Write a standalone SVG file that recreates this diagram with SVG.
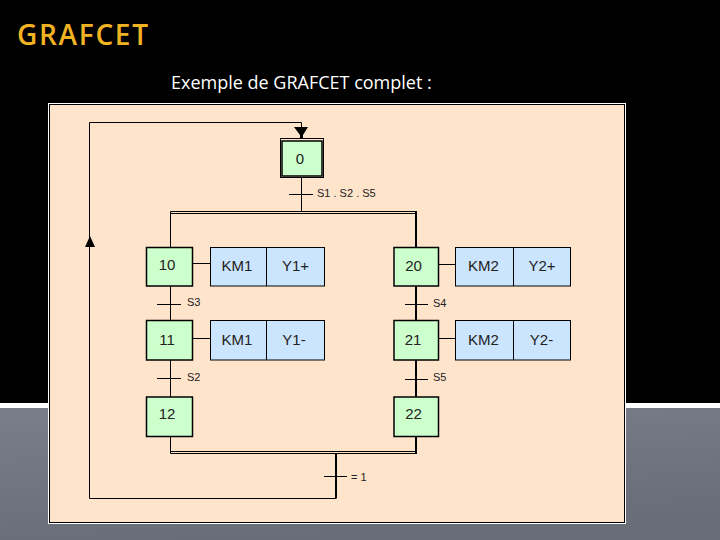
<svg xmlns="http://www.w3.org/2000/svg" width="720" height="540" viewBox="0 0 720 540">
<style>
.step{fill:#ccffcc;stroke:#000;stroke-width:1.5}
.act{fill:#cce5ff;stroke:#000;stroke-width:1}
.c{fill:none;stroke:#000;stroke-width:1}
.t{fill:none;stroke:#000;stroke-width:2}
text{font-family:"Liberation Sans",Arial,sans-serif;fill:#222}
.n{font-size:15px;text-anchor:middle}
.s{font-size:11px}
</style>
<defs>
<linearGradient id="g" x1="0" y1="0" x2="0.3" y2="1"><stop offset="0" stop-color="#7a7e8a"/><stop offset="1" stop-color="#696d78"/></linearGradient>
</defs>
<rect width="720" height="540" fill="#000"/>
<rect y="403" width="720" height="5" fill="#fff"/>
<rect y="408" width="720" height="132" fill="url(#g)"/>
<text x="17" y="45" style="font-family:'Open Sans',sans-serif;font-size:28px;font-weight:600;fill:#f2b322;letter-spacing:1.7px">GRAFCET</text>
<text x="171" y="89" style="font-family:'Open Sans',sans-serif;font-size:18px;fill:#fff">Exemple de GRAFCET complet :</text>
<rect x="48" y="103" width="578" height="421" fill="#fff"/>
<rect x="49.500" y="104.500" width="575" height="418" fill="#ffe4cc" stroke="#000"/>
<g id="connectors">
<path class="c" d="M301.500 138V122.500H89.500V498.500H336"/>
<path class="c" d="M301.500 178V212M289 194.500H313"/>
<path class="c" d="M170.500 247V211.500H417M170.500 213.500H415"/>
<path class="t" d="M416 212V247M416 286V321M416 360V397M416 437V454"/>
<path class="c" d="M170.500 286V321M170.500 360V397M170.500 436V453.500H417M170.500 451.500H415"/>
<path class="c" d="M157 304.500H181M157 378.500H181M405 304.500H428M405 379.500H428M324 476.500H347"/>
<path class="t" d="M336 454V498.500"/>
<path class="c" d="M192 263.500H211M192 338.500H211M438 264.500H456M438 338.500H456"/>
<path fill="#000" d="M294 127H308L303 135V138H300V135ZM85 247L90 236 95 247Z"/>
</g>
<g id="step0"><rect x="280.500" y="138.500" width="43" height="39" fill="#ffe4cc" stroke="#000" stroke-width="1"/><rect x="282" y="141" width="40" height="35" fill="#ccffcc" stroke="#000" stroke-width="1.500"/><text class="n" x="300" y="164">0</text></g>
<g id="step10"><rect class="step" x="146.500" y="247.500" width="46" height="38.500"/><text class="n" x="167" y="270">10</text></g>
<g id="step11"><rect class="step" x="146.500" y="320.500" width="46" height="39.500"/><text class="n" x="167" y="345">11</text></g>
<g id="step12"><rect class="step" x="146.500" y="397" width="46" height="39.500"/><text class="n" x="167" y="419">12</text></g>
<g id="step20"><rect class="step" x="394" y="247.500" width="44.500" height="38.500"/><text class="n" x="413.500" y="270.500">20</text></g>
<g id="step21"><rect class="step" x="394" y="320.500" width="44.500" height="39.500"/><text class="n" x="413" y="345">21</text></g>
<g id="step22"><rect class="step" x="394" y="397" width="44.500" height="39.500"/><text class="n" x="413.500" y="419">22</text></g>
<g id="act1"><rect class="act" x="210.500" y="247.500" width="114" height="38.500"/><path class="c" d="M266.500 247.500V286"/><text class="n" x="237" y="271">KM1</text><text class="n" x="295.500" y="271">Y1+</text></g>
<g id="act2"><rect class="act" x="210.500" y="320.500" width="114" height="39.500"/><path class="c" d="M266.500 320.500V360"/><text class="n" x="237" y="345">KM1</text><text class="n" x="294" y="345">Y1-</text></g>
<g id="act3"><rect class="act" x="455.500" y="247.500" width="115" height="38.500"/><path class="c" d="M513.500 247.500V286"/><text class="n" x="483.500" y="270.500">KM2</text><text class="n" x="542" y="270.500">Y2+</text></g>
<g id="act4"><rect class="act" x="455.500" y="320.500" width="115" height="39.500"/><path class="c" d="M513.500 320.500V360"/><text class="n" x="483.500" y="345">KM2</text><text class="n" x="541.500" y="345">Y2-</text></g>
<g id="labels">
<text class="s" x="317" y="197">S1 . S2 . S5</text>
<text class="s" x="187" y="306">S3</text>
<text class="s" x="187" y="381">S2</text>
<text class="s" x="433" y="307">S4</text>
<text class="s" x="433" y="381">S5</text>
<text class="s" x="351" y="481">= 1</text>
</g>
</svg>
